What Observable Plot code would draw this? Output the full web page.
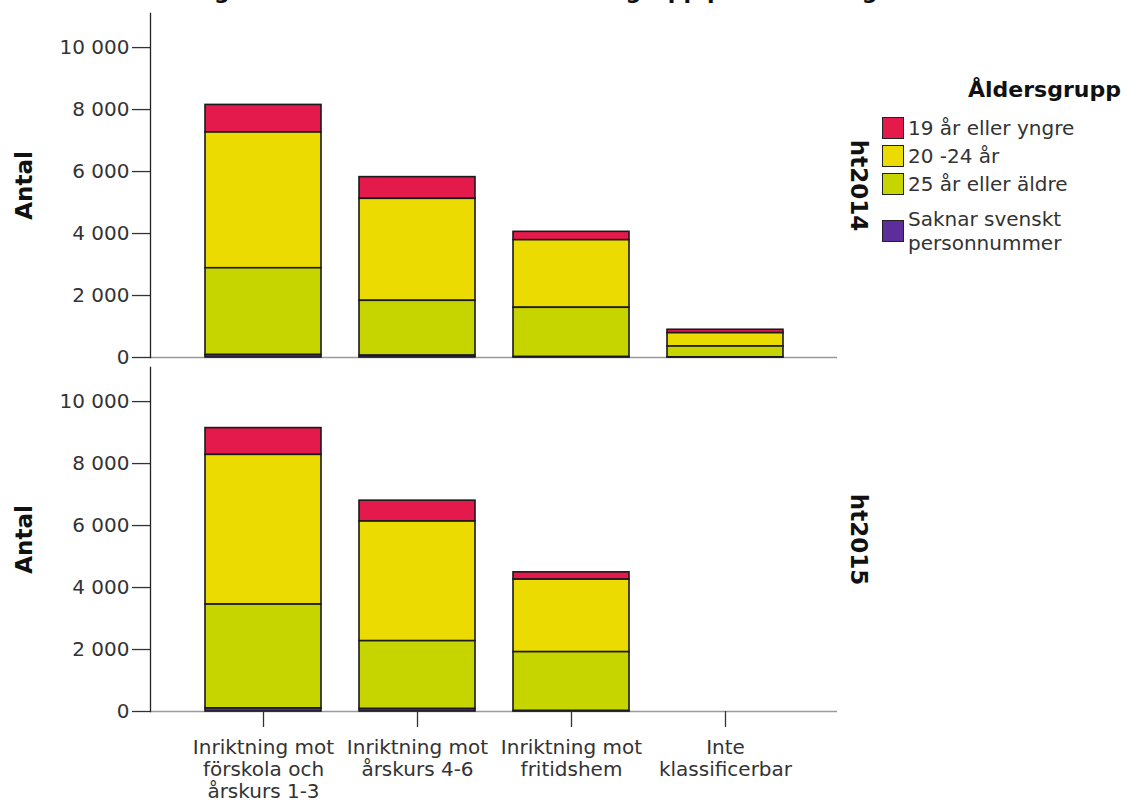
<!DOCTYPE html>
<html>
<head>
<meta charset="utf-8">
<script src="https://cdn.jsdelivr.net/npm/d3@7"></script>
<script src="https://cdn.jsdelivr.net/npm/@observablehq/plot@0.6"></script>
<style>
  html, body { margin: 0; padding: 0; background: #fff; }
  body { width: 1134px; height: 803px; position: relative; overflow: hidden; font-family: "DejaVu Sans", sans-serif; }
  #chart { position: absolute; left: 0; top: 0; }
  .title { position: absolute; left: 0; width: 1134px; top: -21px; line-height: 26px; text-align: center; white-space: nowrap; font-weight: bold; font-size: 22px; color: #111; }
  .lg { position: absolute; color: #333; font-size: 20px; line-height: 24px; white-space: nowrap; }
  .lg-title { position: absolute; left: 968px; top: 77px; font-size: 22px; font-weight: bold; color: #111; white-space: nowrap; }
  .sw { position: absolute; left: 882px; width: 20px; height: 20px; border: 1px solid #222; }
</style>
</head>
<body>
<div class="title">Antal registrerade studenter efter åldersgrupp per inriktning och termin</div>
<div id="chart"></div>
<div id="legend"></div>
<script>
// ---- data ----
const categories = [
  "Inriktning mot förskola och årskurs 1-3",
  "Inriktning mot årskurs 4-6",
  "Inriktning mot fritidshem",
  "Inte klassificerbar"
];
const categoryLabels = [
  "Inriktning mot\nförskola och\nårskurs 1-3",
  "Inriktning mot\nårskurs 4-6",
  "Inriktning mot\nfritidshem",
  "Inte\nklassificerbar"
];
const terms = ["ht2014", "ht2015"];
const groups = ["19 år eller yngre", "20 -24 år", "25 år eller äldre", "Saknar svenskt personnummer"];
const groupColors = ["#e51a4c", "#ecdb00", "#c6d400", "#5c2d9b"];

// values per category, one array per age group
const ht2014_19 = [890, 700, 270, 110];
const ht2014_20_24 = [4380, 3290, 2180, 430];
const ht2014_25 = [2800, 1770, 1590, 350];
const ht2014_saknar = [80, 60, 15, 5];

const ht2015_19 = [865, 673, 235, 0];
const ht2015_20_24 = [4830, 3860, 2340, 0];
const ht2015_25 = [3350, 2190, 1900, 0];
const ht2015_saknar = [100, 80, 15, 0];

const yTicks = [0, 2000, 4000, 6000, 8000, 10000];
const stackOrder = ["Saknar svenskt personnummer", "25 år eller äldre", "20 -24 år", "19 år eller yngre"];

// ---- build table ----
const series = {
  ht2014: [ht2014_19, ht2014_20_24, ht2014_25, ht2014_saknar],
  ht2015: [ht2015_19, ht2015_20_24, ht2015_25, ht2015_saknar]
};
const data = [];
for (const term of terms) {
  series[term].forEach((vals, gi) => {
    vals.forEach((v, ci) => {
      if (v > 0) data.push({term, group: groups[gi], cat: categories[ci], value: v});
    });
  });
}

const fmt = d => d3.format(",")(d).replace(/,/g, " ");

const chart = Plot.plot({
  width: 900,
  height: 803,
  marginTop: 12,
  marginBottom: 91,
  marginLeft: 150,
  marginRight: 63,
  style: {fontFamily: "DejaVu Sans, sans-serif", background: "transparent", overflow: "visible"},
  x: {domain: categories, paddingInner: 0.249, paddingOuter: 0.348},
  y: {domain: [0, 11100]},
  fy: {domain: terms, paddingInner: 0.028, paddingOuter: 0, axis: null},
  color: {domain: groups, range: groupColors},
  marks: [
    Plot.ruleY([0], {stroke: "#9a9a9a", strokeWidth: 1.5}),
    Plot.barY(data, {
      x: "cat", y: "value", fill: "group", fy: "term",
      order: stackOrder, stroke: "#1a1a1a", strokeWidth: 1.6
    }),
    Plot.frame({anchor: "left", stroke: "#222", strokeWidth: 1.3}),
    Plot.axisY({
      ticks: yTicks, tickSize: 18, tickPadding: 3, tickFormat: fmt,
      fontSize: 20, color: "#333", label: null, strokeWidth: 1.3
    }),
    Plot.axisX({
      tickSize: 16, tickPadding: 11, fontSize: 20, lineHeight: 1.1,
      tickFormat: d => categoryLabels[categories.indexOf(d)],
      color: "#333", label: null, strokeWidth: 1.3
    }),
    Plot.text(["Antal"], {
      frameAnchor: "left", dx: -126, rotate: -90, textAnchor: "middle",
      fontSize: 23, fontWeight: "bold", fill: "#111"
    }),
    Plot.text(terms, {
      fy: d => d, text: d => d, frameAnchor: "right", dx: 21, rotate: 90,
      textAnchor: "middle", fontSize: 23, fontWeight: "bold", fill: "#111"
    })
  ]
});
document.getElementById("chart").appendChild(chart);

// ---- legend ----
const legend = document.getElementById("legend");
const lt = document.createElement("div");
lt.className = "lg-title";
lt.textContent = "Åldersgrupp";
legend.appendChild(lt);
const swTops = [117, 145, 173, 220];
const txtTops = [116, 144, 172, 207];
groups.forEach((g, i) => {
  const sw = document.createElement("div");
  sw.className = "sw";
  sw.style.top = swTops[i] + "px";
  sw.style.background = groupColors[i];
  legend.appendChild(sw);
  const t = document.createElement("div");
  t.className = "lg";
  t.style.left = "908px";
  t.style.top = txtTops[i] + "px";
  t.innerHTML = g === "Saknar svenskt personnummer" ? "Saknar svenskt<br>personnummer" : g;
  legend.appendChild(t);
});
</script>
</body>
</html>
